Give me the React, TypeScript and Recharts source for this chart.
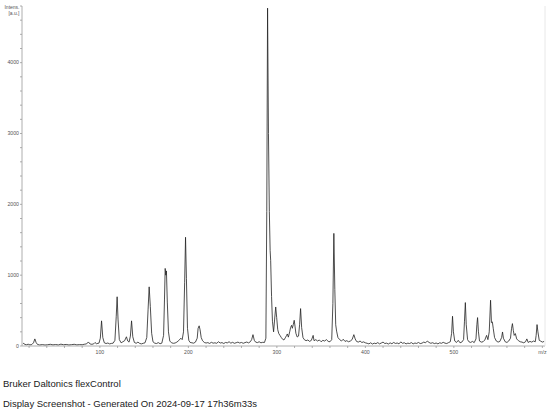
import React from "react"
import { LineChart, Line, XAxis, YAxis } from "recharts"

// spectrum, [m/z, intensity]
const lowMass: [number, number][] = [
  [13, 28], [14, 40], [15, 22], [17, 18], [19, 25], [21, 16], [23, 20], [25, 45], [26.5, 100], [28, 48],
  [29.5, 22], [32, 15], [35, 20], [38, 14], [41, 18], [44, 24], [47, 16], [50, 21], [53, 15], [56, 26],
  [59, 18], [62, 22], [65, 15], [68, 19], [71, 24], [74, 16], [77, 20], [80, 18], [83, 26], [85, 30],
  [87, 57], [89, 28], [91, 24], [93, 30], [94.5, 50], [96, 32], [98, 38],
]

const midMass: [number, number][] = [
  [99, 40], [100.5, 110], [101.9, 355], [103.3, 120], [105, 45], [107, 35], [109, 42], [111, 30], [113, 36], [115, 40],
  [117, 80], [118.5, 420], [119.5, 695], [120.5, 380], [122, 90], [124, 45], [126, 60], [128, 75], [130, 130], [131.5, 70],
  [133, 55], [134.5, 140], [135.8, 355], [137.2, 130], [139, 50], [141, 38], [143, 55], [145, 36], [147, 30], [149, 38],
  [151, 45], [153, 120], [154.5, 520], [155.7, 835], [157, 560], [158.5, 180], [160, 60], [162, 40], [164, 35], [166, 48],
  [168, 32], [170, 40], [172, 150], [173, 650], [173.8, 1095], [174.5, 1000], [175.2, 1060], [176.2, 620], [177.5, 200], [179, 70],
  [181, 45], [183, 38], [185, 42], [187, 55], [189, 75], [191.5, 110], [193, 90], [194.5, 200], [195.8, 900], [196.8, 1535],
  [197.8, 950], [199, 250], [200.5, 80], [202, 50], [204, 45], [206, 40], [208, 55], [210, 110], [211, 250], [212.2, 285],
  [213.2, 230], [214.5, 120], [216, 75], [218, 50], [220, 42], [222, 48], [224, 36], [226, 52], [228, 40], [230, 45],
  [232, 38], [234, 60], [236, 42], [238, 48], [240, 35], [242, 50], [244, 44], [246, 60], [248, 40], [250, 52],
  [252, 38], [254, 46], [256, 55], [258, 42], [260, 50], [262, 38], [264, 48], [266, 56], [268, 44], [270, 60],
  [271.5, 90], [273, 160], [274.5, 80], [276, 55], [278, 48], [280, 60], [282, 45], [284, 52], [286, 50], [287.6, 110],
]

const basePeak: [number, number][] = [
  [288.6, 1900], [289.5, 4770], [290.5, 3000], [291.5, 1900], [292.4, 1350], [293, 1210], [294, 700], [295, 350], [296.3, 200], [297.5, 380],
  [298.7, 551], [299.8, 400], [301, 230], [302.2, 175], [303.5, 150], [305, 120], [306.5, 95], [308, 85], [309.5, 115], [311, 150],
  [311.8, 170], [313, 125], [314.5, 200], [315.5, 260], [316.6, 292], [317.5, 250], [318.5, 300], [319.6, 363], [320.5, 280], [321.5, 180],
  [323, 127], [324.5, 140], [325.7, 300], [326.8, 528], [328, 260], [329.5, 120], [331, 90], [333, 75], [335, 85], [337, 65],
  [339, 80], [341, 150], [342, 75], [344, 90], [346, 70], [348, 85], [350, 60], [352, 80], [354, 70], [356, 90],
  [358, 65], [360, 60], [362, 90], [363.3, 600], [364.4, 1590], [365.5, 800], [366.5, 300], [367.5, 210], [369, 120], [371, 90],
  [373, 70], [375, 95], [377, 65], [379, 75], [381, 60], [383, 70], [385, 90], [387, 160], [388.5, 100], [390, 65],
  [392, 55], [394, 70], [396, 50], [398, 58], [400, 45],
]

const highMass: [number, number][] = [
  [402, 38], [404, 30], [406, 45], [408, 28], [410, 40], [412, 33], [414, 48], [416, 30], [418, 42], [420, 55],
  [422, 35], [424, 40], [426, 28], [428, 44], [430, 32], [432, 50], [434, 36], [436, 42], [438, 30], [440, 58],
  [442, 38], [444, 46], [446, 30], [448, 40], [450, 35], [452, 48], [454, 30], [456, 42], [458, 36], [460, 50],
  [462, 34], [464, 40], [466, 55], [468, 45], [470, 70], [472, 50], [474, 38], [476, 46], [478, 34], [480, 42],
  [482, 30], [484, 45], [486, 38], [488, 52], [490, 40], [492, 35], [494, 48], [496, 60], [497.5, 180], [498.5, 420],
  [499.5, 200], [501, 70], [503, 50], [505, 80], [507, 45], [509, 55], [511, 90], [512, 350], [513, 613], [514, 300],
  [515.5, 90], [517, 60], [519, 50], [521, 65], [523, 48], [525, 100], [526, 300], [526.8, 401], [527.8, 200], [529, 70],
  [531, 55], [533, 60], [535, 85], [537, 150], [538.5, 90], [540, 200], [541.5, 646], [542.5, 330], [543.5, 340], [544.5, 250],
  [546, 120], [548, 70], [550, 55], [552, 65], [554, 120], [555, 198], [556, 110], [558, 60], [560, 50], [562, 70],
  [564, 110], [565.2, 250], [566.2, 316], [567.2, 220], [568.2, 150], [569.5, 175], [571, 100], [573, 75], [575, 60], [577, 55],
  [579, 45], [581, 60], [582.5, 100], [584, 50], [586, 65], [588, 55], [590, 70], [592, 60], [593, 150], [594, 302],
  [595, 200], [596.5, 80], [598, 70], [600, 55], [602, 65],
]

const xTicks = [20, 40, 60, 80, 100, 120, 140, 160, 180, 200, 220, 240, 260, 280, 300, 320, 340, 360, 380, 400, 420, 440, 460, 480, 500, 520, 540, 560, 580, 600]
const yTicks = [0, 200, 400, 600, 800, 1000, 1200, 1400, 1600, 1800, 2000, 2200, 2400, 2600, 2800, 3000, 3200, 3400, 3600, 3800, 4000, 4200, 4400, 4600, 4800]

const data = [...lowMass, ...midMass, ...basePeak, ...highMass].map(([mz, intensity]) => ({ mz, intensity }))

const FONT = "'Liberation Sans', Arial, sans-serif"

const XTick = (props: any) => {
  const { x, y, payload } = props
  const v = payload.value
  let label = ""
  if (v === 600) label = "m/z"
  else if (v % 100 === 0) label = String(v)
  if (!label) return null
  return (
    <text x={x} y={y} dy={4} textAnchor="middle" fontSize={5.2} fill="#555" fontFamily={FONT}>
      {label}
    </text>
  )
}

const YTick = (props: any) => {
  const { x, y, payload } = props
  if (payload.value % 1000 !== 0) return null
  return (
    <text x={x} y={y} dy={1.8} textAnchor="end" fontSize={5.2} fill="#555" fontFamily={FONT}>
      {payload.value}
    </text>
  )
}

export default function App() {
  return (
    <div style={{ position: "relative", width: 550, height: 414, background: "#fff", overflow: "hidden" }}>
      <style>{`body{margin:0}`}</style>
      <LineChart width={550} height={414} data={data} margin={{ top: 6, right: 5, left: 0, bottom: 0 }}>
        <XAxis
          type="number"
          dataKey="mz"
          domain={[12, 603]}
          ticks={xTicks}
          interval={0}
          allowDataOverflow
          height={68}
          tickSize={2}
          tickMargin={2}
          tick={<XTick />}
          axisLine={{ stroke: "#999", strokeWidth: 0.8 }}
          tickLine={{ stroke: "#999", strokeWidth: 0.8 }}
        />
        <YAxis
          type="number"
          domain={[0, 4800]}
          ticks={yTicks}
          interval={0}
          width={22}
          tickSize={2}
          tickMargin={1}
          tick={<YTick />}
          axisLine={{ stroke: "#999", strokeWidth: 0.8 }}
          tickLine={{ stroke: "#999", strokeWidth: 0.8 }}
        />
        <Line
          type="linear"
          dataKey="intensity"
          stroke="#222"
          strokeWidth={0.8}
          dot={false}
          isAnimationActive={false}
        />
      </LineChart>
      <svg width={550} height={414} style={{ position: "absolute", left: 0, top: 0, pointerEvents: "none" }}>
        <line x1={545} y1={6} x2={545} y2={346} stroke="#e2e2e2" strokeWidth={0.8} />
        <text x={19.5} y={8.6} textAnchor="end" fontSize={5} fill="#555" fontFamily={FONT}>Intens.</text>
        <text x={19.5} y={14.6} textAnchor="end" fontSize={5} fill="#555" fontFamily={FONT}>[a.u.]</text>
      </svg>
      <div style={{ position: "absolute", left: 3, top: 378.7, fontFamily: FONT, fontSize: 9.5, lineHeight: "9.5px", color: "#1a1a1a", whiteSpace: "nowrap" }}>
        Bruker Daltonics flexControl
      </div>
      <div style={{ position: "absolute", left: 3, top: 398.7, fontFamily: FONT, fontSize: 9.5, lineHeight: "9.5px", color: "#1a1a1a", whiteSpace: "nowrap" }}>
        Display Screenshot - Generated On 2024-09-17 17h36m33s
      </div>
    </div>
  )
}
